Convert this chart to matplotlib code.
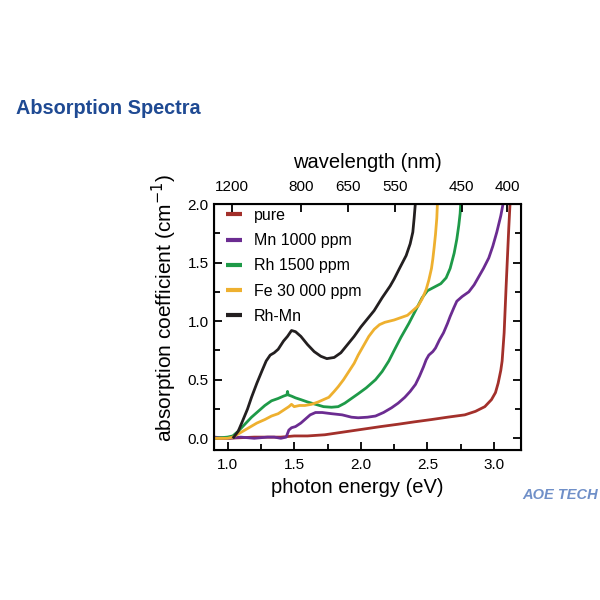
import numpy as np
import matplotlib
matplotlib.use("Agg")
import matplotlib.pyplot as plt

plt.rcParams['font.family'] = ['Liberation Sans', 'DejaVu Sans']

labels = ["pure", "Mn 1000 ppm", "Rh 1500 ppm", "Fe 30 000 ppm", "Rh-Mn"]
colors = ["#A3302B", "#6B2C91", "#1E9A48", "#EEB02F", "#231F20"]

pure_x = [0.9, 1.0, 1.2, 1.4, 1.5, 1.6, 1.73, 1.85, 2.03, 2.15, 2.28, 2.40, 2.53, 2.65, 2.78,
          2.86, 2.93, 2.98, 3.01, 3.03, 3.05, 3.06, 3.075, 3.09, 3.10, 3.11, 3.12]
pure_y = [0.0, 0.0, 0.01, 0.01, 0.02, 0.02, 0.03, 0.05, 0.08, 0.10, 0.12, 0.14, 0.16, 0.18, 0.20,
          0.23, 0.27, 0.33, 0.39, 0.47, 0.58, 0.66, 0.90, 1.30, 1.55, 1.80, 2.02]

mn_x = [0.9, 1.0, 1.1, 1.2, 1.3, 1.35, 1.40, 1.44, 1.45, 1.46, 1.48, 1.51, 1.55, 1.58, 1.62, 1.66,
        1.71, 1.78, 1.86, 1.93, 1.98, 2.05, 2.11, 2.17, 2.23, 2.28, 2.33, 2.37, 2.41, 2.44, 2.47,
        2.49, 2.51, 2.54, 2.56, 2.59, 2.62, 2.65, 2.67, 2.70, 2.72, 2.76, 2.81, 2.85, 2.88, 2.92,
        2.96, 2.99, 3.02, 3.05, 3.07]
mn_y = [0.01, 0.0, 0.01, 0.0, 0.01, 0.01, 0.0, 0.01, 0.04, 0.07, 0.09, 0.10, 0.13, 0.16, 0.20, 0.22,
        0.22, 0.21, 0.20, 0.18, 0.175, 0.18, 0.19, 0.22, 0.26, 0.30, 0.35, 0.40, 0.46, 0.53, 0.61,
        0.67, 0.71, 0.74, 0.77, 0.84, 0.90, 0.98, 1.04, 1.12, 1.17, 1.21, 1.25, 1.31, 1.37, 1.45,
        1.54, 1.64, 1.76, 1.90, 2.02]

rh_x = [0.9, 1.0, 1.04, 1.08, 1.13, 1.18, 1.23, 1.28, 1.33, 1.38, 1.42, 1.445, 1.45, 1.455, 1.48,
        1.51, 1.55, 1.60, 1.66, 1.72, 1.78, 1.83, 1.88, 1.93, 1.98, 2.04, 2.11, 2.16, 2.21, 2.25,
        2.30, 2.36, 2.41, 2.46, 2.50, 2.55, 2.60, 2.64, 2.67, 2.70, 2.72, 2.735, 2.745, 2.75]
rh_y = [0.0, 0.01, 0.02, 0.06, 0.12, 0.18, 0.23, 0.28, 0.32, 0.34, 0.36, 0.37, 0.40, 0.37, 0.36,
        0.345, 0.33, 0.31, 0.29, 0.27, 0.265, 0.27, 0.30, 0.34, 0.38, 0.43, 0.50, 0.57, 0.66, 0.75,
        0.86, 0.98, 1.09, 1.20, 1.26, 1.29, 1.32, 1.37, 1.45, 1.58, 1.70, 1.82, 1.92, 2.02]

fe_x = [0.9, 1.0, 1.04, 1.10, 1.16, 1.22, 1.28, 1.33, 1.38, 1.42, 1.46, 1.48, 1.50, 1.54, 1.58,
        1.63, 1.68, 1.72, 1.76, 1.80, 1.83, 1.87, 1.91, 1.95, 1.98, 2.02, 2.06, 2.10, 2.14, 2.18,
        2.25, 2.30, 2.35, 2.40, 2.43, 2.46, 2.49, 2.51, 2.53, 2.54, 2.55, 2.56, 2.57, 2.575]
fe_y = [0.0, 0.0, 0.01, 0.05, 0.09, 0.13, 0.16, 0.19, 0.21, 0.24, 0.27, 0.29, 0.27, 0.28, 0.28,
        0.29, 0.31, 0.33, 0.35, 0.40, 0.44, 0.50, 0.57, 0.64, 0.71, 0.79, 0.87, 0.93, 0.97, 0.99,
        1.01, 1.03, 1.05, 1.10, 1.13, 1.19, 1.27, 1.35, 1.45, 1.53, 1.63, 1.74, 1.88, 2.02]

rhmn_x = [1.04, 1.08, 1.11, 1.15, 1.18, 1.22, 1.26, 1.29, 1.32, 1.35, 1.38, 1.42, 1.45, 1.48, 1.51,
          1.55, 1.60, 1.65, 1.70, 1.745, 1.80, 1.85, 1.90, 1.95, 2.00, 2.05, 2.10, 2.16, 2.22,
          2.25, 2.29, 2.34, 2.37, 2.39, 2.40, 2.41]
rhmn_y = [0.0, 0.06, 0.14, 0.25, 0.35, 0.47, 0.58, 0.66, 0.71, 0.73, 0.76, 0.83, 0.87, 0.92, 0.91,
          0.87, 0.80, 0.74, 0.70, 0.68, 0.69, 0.73, 0.80, 0.87, 0.95, 1.02, 1.09, 1.20, 1.30,
          1.36, 1.45, 1.56, 1.66, 1.76, 1.88, 2.02]

series_x = [pure_x, mn_x, rh_x, fe_x, rhmn_x]
series_y = [pure_y, mn_y, rh_y, fe_y, rhmn_y]

wavelengths = [1200, 800, 650, 550, 450, 400]

fig = plt.figure(figsize=(6, 6), dpi=100)
ax = fig.add_axes([0.357, 0.25, 0.511, 0.41])

for x, y, c, lab in zip(series_x, series_y, colors, labels):
    ax.plot(x, y, color=c, lw=2.0, label=lab, solid_capstyle='butt')

ax.set_xlim(0.9, 3.2)
ax.set_ylim(-0.1, 2.0)
ax.set_xticks([1.0, 1.5, 2.0, 2.5, 3.0])
ax.set_xticks(np.arange(1.0, 3.2, 0.25), minor=True)
ax.set_yticks([0.0, 0.5, 1.0, 1.5, 2.0])
ax.set_yticks(np.arange(0.0, 2.01, 0.25), minor=True)
ax.tick_params(which='both', direction='in', right=True, labelsize=11, width=1.3)
ax.tick_params(which='major', length=6)
ax.tick_params(which='minor', length=4)
ax.tick_params(axis='x', which='both', top=False, pad=6)
ax.tick_params(axis='y', which='both', pad=4)
for s in ax.spines.values():
    s.set_linewidth(1.5)

ax.set_xlabel("photon energy (eV)", fontsize=14.5, labelpad=4)
ax.xaxis.label.set_x(0.467)
ax.set_ylabel("absorption coefficient (cm$^{-1}$)", fontsize=15, labelpad=6)
ax.yaxis.label.set_y(0.577)

ax2 = ax.twiny()
ax2.set_xlim(ax.get_xlim())
ax2.set_xticks(1239.84 / np.array(wavelengths, dtype=float))
ax2.set_xticklabels([str(w) for w in wavelengths])
ax2.tick_params(direction='in', length=6, width=1.3, labelsize=11, pad=7)
ax2.set_xlabel("wavelength (nm)", fontsize=14.5, labelpad=9)

leg = ax.legend(loc='upper left', frameon=False, fontsize=11.5, handlelength=1.0,
                handletextpad=0.75, labelspacing=0.64, borderaxespad=0.0,
                bbox_to_anchor=(0.018, 1.01))
for h in leg.legend_handles:
    h.set_linewidth(3)

fig.text(0.027, 0.82, "Absorption Spectra", color="#1F4A93", fontsize=14.3,
         fontweight='bold', va='center', ha='left')
fig.text(0.997, 0.175, "AOE TECH", color="#6F8FC8", fontsize=10.5,
         fontweight='bold', style='italic', va='center', ha='right')

fig.savefig("out.png", dpi=100, facecolor='white')
